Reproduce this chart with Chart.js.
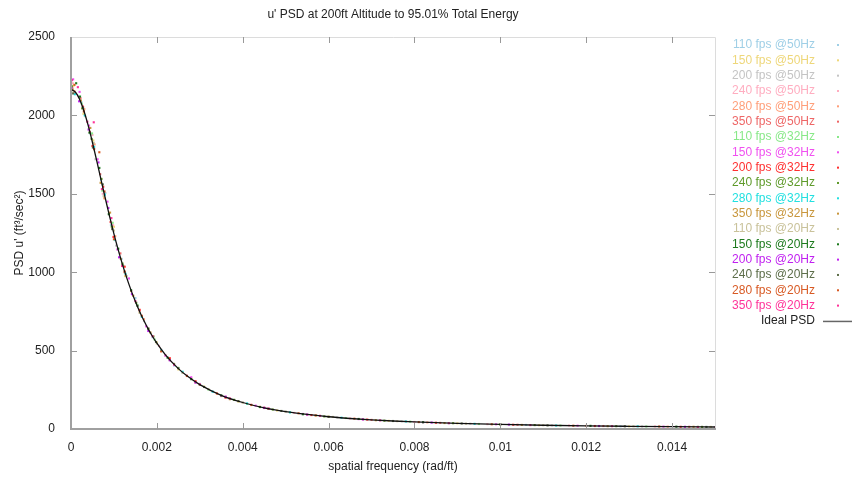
<!DOCTYPE html>
<html>
<head>
<meta charset="utf-8">
<script src="https://cdn.jsdelivr.net/npm/chart.js@4.4.1/dist/chart.umd.min.js"></script>
<style>
  html, body { margin: 0; padding: 0; background: #fff; }
  #wrap { width: 852px; height: 479px; }
</style>
</head>
<body>
<div id="wrap"><canvas id="psd" width="852" height="479"></canvas></div>
<script>
// u' PSD, 200ft altitude
const titleText = "u' PSD at 200ft Altitude to 95.01% Total Energy";
const xTitle = 'spatial frequency (rad/ft)';
const yTitle = 'PSD u\' (ft\u00b3/sec\u00b2)';

const xTicks = [0, 0.002, 0.004, 0.006, 0.008, 0.01, 0.012, 0.014];
const yTicks = [0, 500, 1000, 1500, 2000, 2500];

// ideal curve
const idealX = [0, 0.0001, 0.0002, 0.0003, 0.0004, 0.0005, 0.0006, 0.0007, 0.0008, 0.0009, 0.001,
  0.0011, 0.0012, 0.0013, 0.0014, 0.0015, 0.0016, 0.0017, 0.0018, 0.0019, 0.002, 0.0022, 0.0025,
  0.0027, 0.003, 0.0035, 0.004, 0.0045, 0.005, 0.0055, 0.006, 0.0065, 0.007, 0.0075, 0.008, 0.009,
  0.01, 0.011, 0.012, 0.013, 0.014, 0.015];
const idealY = [2165, 2149, 2103, 2030, 1936, 1827, 1710, 1589, 1470, 1354, 1244,
  1142, 1048, 962, 884, 813, 748, 690, 637, 590, 547, 473, 385,
  339, 283, 215, 169, 135, 111, 93, 78, 67, 58, 51, 45, 35.5,
  28.9, 23.9, 20.1, 17.2, 14.8, 12.9];

// measured runs, [spatial freq, psd]
const s110_50 = [[0.00002,2170],[0.00024,2085],[0.00046,1880],[0.0007,1590],[0.00093,1300],[0.00118,1085],[0.0015,835],[0.0019,585],[0.0024,405],[0.003,288],[0.0037,192],[0.0046,130],[0.0058,83],[0.0072,55],[0.0088,37],[0.0106,26],[0.0128,17],[0.0148,13]];
const s150_50 = [[0.00006,2190],[0.00029,2010],[0.00052,1840],[0.00077,1475],[0.001,1290],[0.00126,975],[0.0016,745],[0.002,552],[0.0025,380],[0.0031,270],[0.0039,175],[0.0048,118],[0.006,79],[0.0074,52],[0.009,36],[0.0109,24],[0.013,17],[0.0149,13]];
const s200_50 = [[0.0001,2140],[0.00033,1995],[0.00057,1720],[0.0008,1505],[0.00105,1170],[0.0013,975],[0.0017,688],[0.0021,505],[0.0026,360],[0.0033,240],[0.004,170],[0.005,110],[0.0062,74],[0.0077,49],[0.0093,34],[0.0112,23],[0.0133,16],[0.0147,14]];
const s240_50 = [[0.00004,2205],[0.00027,2060],[0.0005,1875],[0.00074,1500],[0.00098,1300],[0.00124,1000],[0.0016,752],[0.00205,530],[0.0027,342],[0.0034,228],[0.0042,156],[0.0052,103],[0.0065,67],[0.008,45],[0.0097,31],[0.0116,22],[0.0136,16],[0.015,13]];
const s280_50 = [[0.00008,2155],[0.00031,2040],[0.00055,1815],[0.00078,1470],[0.00103,1230],[0.00128,985],[0.0017,700],[0.0022,470],[0.0028,322],[0.0035,210],[0.0044,142],[0.0055,91],[0.0068,62],[0.0083,42],[0.01,29],[0.012,20],[0.0139,15]];
const s350_50 = [[0.00003,2178],[0.00022,2110],[0.00044,1895],[0.00068,1625],[0.00092,1320],[0.00115,1120],[0.0014,880],[0.0018,640],[0.0023,445],[0.0029,300],[0.0036,205],[0.0045,136],[0.0057,87],[0.007,58],[0.0086,39],[0.0104,27],[0.0124,19],[0.0144,14]];
const s110_32 = [[0.00001,2160],[0.00025,2075],[0.00049,1885],[0.00073,1520],[0.00097,1315],[0.00122,1040],[0.00155,790],[0.00195,570],[0.0025,390],[0.0032,252],[0.0041,160],[0.0051,107],[0.0064,70],[0.0079,47],[0.0095,32],[0.0114,22],[0.0134,16],[0.0146,14]];
const s150_32 = [[0.00005,2230],[0.0002,2150],[0.00042,1935],[0.00062,1720],[0.00085,1450],[0.00108,1145],[0.00135,960],[0.00175,655],[0.0022,468],[0.0028,330],[0.0035,212],[0.0043,149],[0.0054,96],[0.0067,63],[0.0082,43],[0.0099,30],[0.0118,21],[0.0138,15]];
const s200_32 = [[0.00007,2145],[0.00028,2055],[0.0005,1805],[0.00075,1545],[0.00099,1225],[0.00125,1035],[0.0016,760],[0.0023,452],[0.0029,305],[0.0036,200],[0.0045,134],[0.0056,89],[0.0069,60],[0.0085,40],[0.0103,27],[0.0122,19],[0.0142,14]];
const s240_32 = [[0.00002,2185],[0.00026,2045],[0.00048,1850],[0.00071,1595],[0.00095,1290],[0.0012,1055],[0.00152,805],[0.00192,590],[0.0024,415],[0.003,282],[0.0038,186],[0.0047,124],[0.0059,80],[0.0073,53],[0.0089,37],[0.0108,25],[0.0127,18],[0.0147,13]];
const s280_32 = [[0.00009,2135],[0.00032,2000],[0.00054,1800],[0.00079,1495],[0.00102,1205],[0.00127,990],[0.00165,715],[0.0021,500],[0.0026,365],[0.0033,238],[0.0041,163],[0.0051,106],[0.0063,72],[0.0078,48],[0.0094,33],[0.0113,22],[0.0132,17]];
const s350_32 = [[0.00004,2165],[0.00023,2095],[0.00045,1920],[0.00069,1570],[0.00091,1380],[0.00116,1085],[0.00145,850],[0.00185,615],[0.0023,440],[0.0029,298],[0.0037,190],[0.0046,128],[0.0057,86],[0.0071,56],[0.0087,38],[0.0105,26],[0.0125,18],[0.0145,14]];
const s110_20 = [[0.00006,2150],[0.0003,2030],[0.00053,1825],[0.00076,1485],[0.001,1265],[0.00125,1000],[0.0016,740],[0.002,545],[0.0026,358],[0.0032,255],[0.004,168],[0.005,111],[0.0061,77],[0.0076,50],[0.0092,34],[0.011,24],[0.0131,17],[0.0149,13]];
const s150_20 = [[0.00012,2205],[0.00021,2120],[0.00043,1890],[0.00066,1665],[0.00088,1370],[0.0011,1150],[0.0014,885],[0.0018,640],[0.00225,455],[0.0028,318],[0.0035,214],[0.0044,140],[0.0054,94],[0.0067,64],[0.0082,43],[0.01,29],[0.0121,20],[0.0141,15]];
const s200_20 = [[0.00001,2175],[0.00019,2090],[0.00041,1910],[0.00064,1700],[0.00087,1410],[0.00112,1095],[0.00142,860],[0.0018,625],[0.0023,438],[0.0029,296],[0.0036,206],[0.0045,135],[0.0055,92],[0.0068,61],[0.0084,41],[0.0102,28],[0.0123,19],[0.0143,14]];
const s240_20 = [[0.00005,2140],[0.00028,2050],[0.00051,1795],[0.00074,1560],[0.00096,1275],[0.0012,1045],[0.00155,785],[0.00198,555],[0.0025,388],[0.0031,268],[0.0039,178],[0.0049,115],[0.006,78],[0.0075,51],[0.0091,35],[0.0111,23],[0.0129,17],[0.0148,13]];
const s280_20 = [[0.00008,2195],[0.0003,2025],[0.00054,1785],[0.00066,1765],[0.00078,1515],[0.001,1210],[0.00125,1005],[0.00165,722],[0.0021,495],[0.0027,338],[0.0034,226],[0.0042,153],[0.0053,100],[0.0066,66],[0.0081,44],[0.0098,30],[0.0117,21],[0.0137,16]];
const s350_20 = [[0.00002,2225],[0.00016,2180],[0.00038,1960],[0.00053,1956],[0.00072,1530],[0.00094,1345],[0.00119,1040],[0.0015,815],[0.0019,592],[0.0024,410],[0.003,285],[0.0037,195],[0.0046,131],[0.0058,84],[0.0072,55],[0.0088,37],[0.0107,25],[0.0126,18],[0.0146,13]];

const runLabels = ['110 fps @50Hz','150 fps @50Hz','200 fps @50Hz','240 fps @50Hz','280 fps @50Hz','350 fps @50Hz',
  '110 fps @32Hz','150 fps @32Hz','200 fps @32Hz','240 fps @32Hz','280 fps @32Hz','350 fps @32Hz',
  '110 fps @20Hz','150 fps @20Hz','200 fps @20Hz','240 fps @20Hz','280 fps @20Hz','350 fps @20Hz'];
const runData = [s110_50, s150_50, s200_50, s240_50, s280_50, s350_50,
  s110_32, s150_32, s200_32, s240_32, s280_32, s350_32,
  s110_20, s150_20, s200_20, s240_20, s280_20, s350_20];
const runColors = ['#9fcfe6','#eed77a','#c4c4c4','#ffadc0','#ff9f7a','#ee6666',
  '#88e888','#f050f0','#ff3030','#5e9a2a','#22e0e0','#c8963c',
  '#c9c29a','#1d7a1d','#c020f0','#5d6e4a','#d85a24','#ff3399'];

const FONT = '"Liberation Sans", Arial, sans-serif';

const datasets = runData.map((d, i) => ({
  type: 'scatter',
  label: runLabels[i],
  data: d,
  backgroundColor: runColors[i],
  borderWidth: 0,
  pointRadius: 1.5,
  pointStyle: 'rect',
  order: 20 - i
}));
datasets.push({
  type: 'line',
  label: 'Ideal PSD',
  data: idealX.map((x, i) => ({ x: x, y: idealY[i] })),
  borderColor: '#111',
  borderWidth: 1.3,
  pointRadius: 0,
  cubicInterpolationMode: 'monotone',
  fill: false,
  order: 1
});

// gnuplot look: borders, inward ticks, title, colored key
const frame = {
  id: 'frame',
  afterDraw(chart) {
    const c = chart.ctx, a = chart.chartArea;
    const xs = chart.scales.x, ys = chart.scales.y;
    c.save();
    c.lineWidth = 1;
    c.strokeStyle = '#dcdcdc';
    c.beginPath();
    c.moveTo(a.left, a.top + 0.5); c.lineTo(a.right + 0.5, a.top + 0.5);
    c.lineTo(a.right + 0.5, a.bottom);
    c.stroke();
    c.strokeStyle = '#a0a0a0';
    c.lineWidth = 2;
    c.beginPath();
    c.moveTo(a.left, a.top); c.lineTo(a.left, a.bottom); c.lineTo(a.right + 1, a.bottom);
    c.stroke();

    c.lineWidth = 1;
    c.strokeStyle = '#999';
    c.beginPath();
    xTicks.forEach(v => {
      if (v === 0) return;
      const px = Math.round(xs.getPixelForValue(v)) + 0.5;
      c.moveTo(px, a.bottom); c.lineTo(px, a.bottom - 6);
      c.moveTo(px, a.top); c.lineTo(px, a.top + 6);
    });
    yTicks.forEach(v => {
      if (v === 0 || v === 2500) return;
      const py = Math.round(ys.getPixelForValue(v)) + 0.5;
      c.moveTo(a.left, py); c.lineTo(a.left + 6, py);
      c.moveTo(a.right, py); c.lineTo(a.right - 6, py);
    });
    c.stroke();

    c.fillStyle = '#222';
    c.font = '12px ' + FONT;
    c.textAlign = 'center';
    c.textBaseline = 'middle';
    c.fillText(titleText, (a.left + a.right) / 2, 15);
    c.fillText(xTitle, (a.left + a.right) / 2, 467);
    c.save();
    c.translate(20, (a.top + a.bottom) / 2);
    c.rotate(-Math.PI / 2);
    c.fillText(yTitle, 0, 0);
    c.restore();

    // key
    c.textAlign = 'right';
    runLabels.forEach((lab, i) => {
      const y = 45 + i * 15.33;
      c.fillStyle = runColors[i];
      c.fillText(lab, 815, y);
      c.fillRect(837, y - 1, 2, 2);
    });
    const ky = 45 + 18 * 15.33;
    c.fillStyle = '#222';
    c.fillText('Ideal PSD', 815, ky);
    c.strokeStyle = '#666';
    c.lineWidth = 1.5;
    c.beginPath();
    c.moveTo(823, ky + 0.5); c.lineTo(852, ky + 0.5);
    c.stroke();
    c.restore();
  }
};

new Chart(document.getElementById('psd').getContext('2d'), {
  data: { datasets: datasets },
  options: {
    responsive: false,
    animation: false,
    layout: { padding: { top: 37, right: 137, bottom: 0, left: 0 } },
    plugins: { legend: { display: false }, title: { display: false }, tooltip: { enabled: false } },
    scales: {
      x: {
        type: 'linear',
        min: 0,
        max: 0.015,
        afterBuildTicks: s => { s.ticks = xTicks.map(v => ({ value: v })); },
        afterFit: s => { s.height = 50; },
        grid: { display: false },
        border: { display: false },
        ticks: { color: '#222', font: { family: FONT, size: 12 }, padding: 3, maxRotation: 0,
          autoSkip: false, callback: v => String(v) }
      },
      y: {
        type: 'linear',
        min: 0,
        max: 2500,
        afterBuildTicks: s => { s.ticks = yTicks.map(v => ({ value: v })); },
        afterFit: s => { s.width = 71; },
        grid: { display: false },
        border: { display: false },
        ticks: { color: '#222', font: { family: FONT, size: 12 }, padding: 8, callback: v => String(v) }
      }
    }
  },
  plugins: [frame]
});
</script>
</body>
</html>
